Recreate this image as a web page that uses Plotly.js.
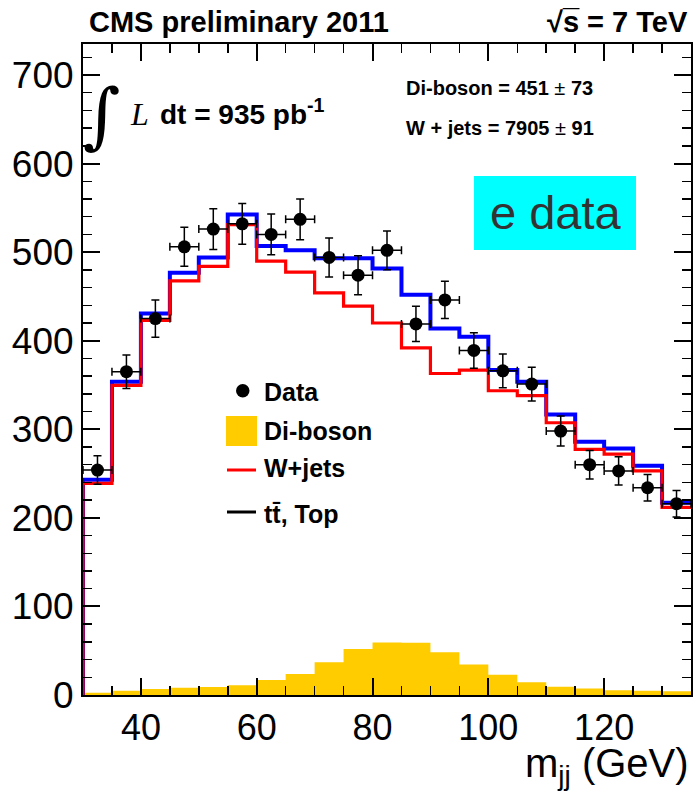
<!DOCTYPE html>
<html>
<head>
<meta charset="utf-8">
<script src="https://cdn.plot.ly/plotly-3.0.1.min.js"></script>
<style>html,body{margin:0;padding:0;background:#fff;}#chart{width:694px;height:793px;}</style>
</head>
<body>
<div id="chart"></div>
<script>
// ---- data ----
const binEdges = [30, 35, 40, 45, 50, 55, 60, 65, 70, 75, 80, 85, 90, 95, 100, 105, 110, 115, 120, 125, 130, 135];
const binCenters = [32.5, 37.5, 42.5, 47.5, 52.5, 57.5, 62.5, 67.5, 72.5, 77.5, 82.5, 87.5, 92.5, 97.5, 102.5, 107.5, 112.5, 117.5, 122.5, 127.5, 132.5];
const dataCounts = [254, 365, 425, 506, 526, 532, 520, 537, 494, 474, 502, 419, 446, 389, 366, 351, 298, 260, 253, 234, 216];
const dataErrors = [16, 19, 21, 22, 23, 23, 23, 23, 22, 22, 22, 20, 21, 20, 19, 19, 17, 16, 16, 15, 15];
const dibosonCounts = [2.6, 4.9, 6.8, 8.3, 9.1, 10.9, 17, 23.8, 37, 52, 59.2, 58.9, 48.3, 34.3, 23, 14.3, 9.4, 7.2, 5.3, 4.9, 4.2];
const wjetsCounts = [239, 349.5, 423, 467.6, 484, 531, 489.8, 477.4, 454, 439, 420, 392, 363, 366.8, 343.5, 337.9, 307.4, 277.3, 272, 253, 211.8];
const totalCounts = [243, 353.6, 430.7, 476.6, 494, 542.5, 506.8, 502, 493, 493, 481.5, 452, 413.8, 404.4, 366.8, 353.6, 316.7, 285.9, 278.4, 258.8, 217];
const xTickVals = [40, 60, 80, 100, 120];
const yTickVals = [0, 100, 200, 300, 400, 500, 600, 700];

// stairs helper: outline of a histogram, closed down to zero at both ends
function stairs(vals) {
  const x = [binEdges[0]].concat(binEdges);
  const y = [0].concat(vals, [vals[vals.length - 1], 0]);
  return {x: x, y: y};
}
function stairsFill(vals) {
  return {x: binEdges.slice(), y: vals.concat([vals[vals.length - 1]])};
}

const dib = stairsFill(dibosonCounts);
const tot = stairs(totalCounts);
const wj = stairs(wjetsCounts);

const traces = [
  {x: dib.x, y: dib.y, type: 'scatter', mode: 'lines', line: {shape: 'hv', width: 0, color: '#ffcc00'},
   fill: 'tozeroy', fillcolor: '#ffcc00', hoverinfo: 'skip', showlegend: false},
  {x: tot.x, y: tot.y, type: 'scatter', mode: 'lines', line: {shape: 'hv', width: 4, color: '#0000ff'}, showlegend: false},
  {x: wj.x, y: wj.y, type: 'scatter', mode: 'lines', line: {shape: 'hv', width: 3.2, color: '#ff0000'}, showlegend: false},
  {x: binCenters, y: dataCounts, type: 'scatter', mode: 'markers',
   marker: {color: '#000', size: 13},
   error_y: {type: 'data', array: dataErrors, visible: true, color: '#000', thickness: 1.5, width: 4},
   error_x: {type: 'constant', value: 2.5, visible: true, color: '#000', thickness: 1.5, width: 4},
   showlegend: false}
];

// pixel -> paper helpers for decorations
const L = 83, R = 3, T = 44, B = 98, W = 694, H = 793;
const PW = W - L - R, PH = H - T - B;
const px = v => (v - L) / PW;
const py = v => (H - B - v) / PH;

const bold = 'Liberation Sans, Arial, sans-serif';
const annotations = [
  {text: '<b>CMS preliminary 2011</b>', x: px(87), y: py(22), xanchor: 'left', yanchor: 'middle', font: {family: bold, size: 29, color: '#000'}},
  {text: '<b>\u221As\u0305 = 7 TeV</b>', x: px(690), y: py(22), xanchor: 'right', yanchor: 'middle', font: {family: bold, size: 29, color: '#000'}},
  {text: '\u222B', x: px(102), y: py(115), xanchor: 'center', yanchor: 'middle', font: {family: 'DejaVu Serif, serif', size: 72, color: '#000'}},
  {text: '<i>L</i>', x: px(128), y: py(114), xanchor: 'left', yanchor: 'middle', font: {family: 'Liberation Serif, Times New Roman, serif', size: 32, color: '#000'}},
  {text: '<b>dt = 935 pb<sup>-1</sup></b>', x: px(158), y: py(112), xanchor: 'left', yanchor: 'middle', font: {family: bold, size: 28, color: '#000'}},
  {text: '<b>Di-boson = 451</b> \u00B1 <b>73</b>', x: px(404), y: py(88), xanchor: 'left', yanchor: 'middle', font: {family: bold, size: 20, color: '#000'}},
  {text: '<b>W + jets = 7905</b> \u00B1 <b>91</b>', x: px(404), y: py(128), xanchor: 'left', yanchor: 'middle', font: {family: bold, size: 20, color: '#000'}},
  {text: 'e data', x: px(556), y: py(212), xanchor: 'center', yanchor: 'middle', font: {family: bold, size: 47, color: '#333333'}},
  {text: '<b>Data</b>', x: px(262), y: py(392), xanchor: 'left', yanchor: 'middle', font: {family: bold, size: 25, color: '#000'}},
  {text: '<b>Di-boson</b>', x: px(262), y: py(431), xanchor: 'left', yanchor: 'middle', font: {family: bold, size: 25, color: '#000'}},
  {text: '<b>W+jets</b>', x: px(262), y: py(468), xanchor: 'left', yanchor: 'middle', font: {family: bold, size: 25, color: '#000'}},
  {text: '<b>tt\u0304, Top</b>', x: px(262), y: py(514), xanchor: 'left', yanchor: 'middle', font: {family: bold, size: 25, color: '#000'}},
  {text: 'm<sub>jj</sub> (GeV)', x: px(691), y: py(766), xanchor: 'right', yanchor: 'middle', font: {family: 'Liberation Sans, Arial, sans-serif', size: 40, color: '#000'}}
].map(a => Object.assign({xref: 'paper', yref: 'paper', showarrow: false}, a));

const shapes = [
  {type: 'rect', xref: 'paper', yref: 'paper', x0: px(474), x1: px(636), y0: py(250), y1: py(176), fillcolor: '#00ffff', line: {width: 0}, layer: 'below'},
  {type: 'circle', xref: 'paper', yref: 'paper', x0: px(236), x1: px(249.5), y0: py(397.5), y1: py(384), fillcolor: '#000', line: {width: 0}},
  {type: 'rect', xref: 'paper', yref: 'paper', x0: px(226), x1: px(257), y0: py(446), y1: py(416), fillcolor: '#ffcc00', line: {width: 0}},
  {type: 'line', xref: 'paper', yref: 'paper', x0: px(227), x1: px(256), y0: py(470), y1: py(470), line: {color: '#ff0000', width: 3}},
  {type: 'line', xref: 'paper', yref: 'paper', x0: px(227), x1: px(256), y0: py(512), y1: py(512), line: {color: '#000', width: 3}}
];

const layout = {
  width: W, height: H,
  margin: {l: L, r: R, t: T, b: B, pad: 0},
  paper_bgcolor: '#fff', plot_bgcolor: '#fff',
  showlegend: false,
  font: {family: 'Liberation Sans, Arial, sans-serif', color: '#000'},
  xaxis: {
    range: [30, 135], tickmode: 'array', tickvals: xTickVals,
    ticks: 'inside', ticklen: 17, tickwidth: 2, tickcolor: '#000',
    minor: {dtick: 5, tick0: 0, ticks: 'inside', ticklen: 9, tickwidth: 1.5, tickcolor: '#000', showgrid: false},
    showline: true, linecolor: '#000', linewidth: 2, mirror: 'allticks',
    showgrid: false, zeroline: false,
    tickfont: {size: 36, family: 'Liberation Sans, Arial, sans-serif', color: '#000'},
    ticklabelstandoff: 0
  },
  yaxis: {
    range: [0, 735], tickmode: 'array', tickvals: yTickVals,
    ticks: 'inside', ticklen: 17, tickwidth: 2, tickcolor: '#000',
    minor: {dtick: 20, tick0: 0, ticks: 'inside', ticklen: 9, tickwidth: 1.5, tickcolor: '#000', showgrid: false},
    showline: true, linecolor: '#000', linewidth: 2, mirror: 'allticks',
    showgrid: false, zeroline: false,
    tickfont: {size: 37, family: 'Liberation Sans, Arial, sans-serif', color: '#000'},
    ticklabelstandoff: 0
  },
  annotations: annotations,
  shapes: shapes
};

Plotly.newPlot('chart', traces, layout, {staticPlot: true, displayModeBar: false});
</script>
</body>
</html>
